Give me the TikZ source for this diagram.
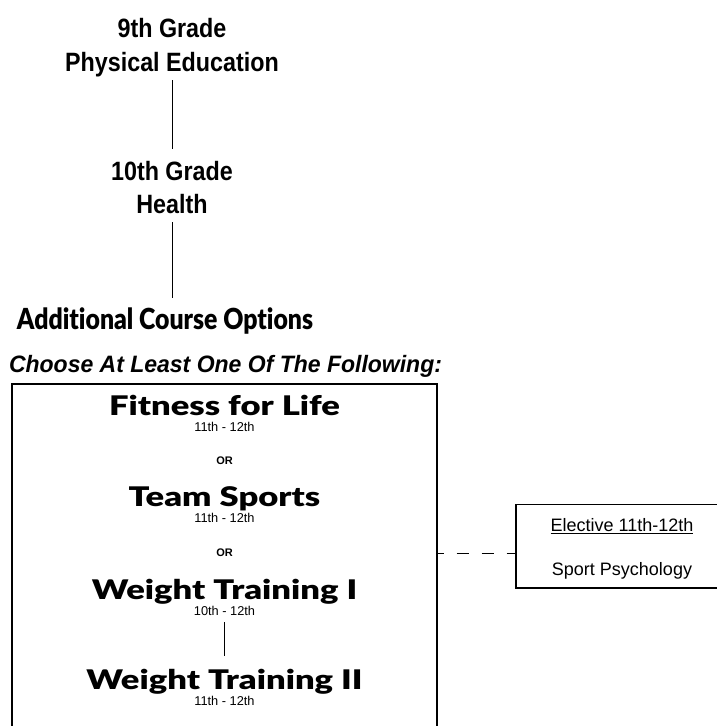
\documentclass[tikz,border=0pt]{standalone}
\usepackage{fontspec}
\setmainfont{Liberation Sans}
\newfontfamily\gradefont{Liberation Sans}[FakeStretch=0.88]
\newfontfamily\optionsfont{Lato Black}[FakeStretch=0.855,Ligatures=NoCommon]
\newfontfamily\choosefont{Liberation Sans}[FakeStretch=0.97]
\newfontfamily\coursefont{Lato Black}[FakeStretch=1.28,Ligatures=NoCommon]
\colorlet{ink}{black}

\tikzset{
  grade/.style={font=\gradefont\bfseries\fontsize{26.5}{30}\selectfont, anchor=base, inner sep=0pt, text height=31pt, text depth=9pt, text=ink},
  options/.style={font=\optionsfont\fontsize{29}{32}\selectfont, anchor=base, inner sep=0pt, text height=31pt, text=ink},
  choose/.style={font=\choosefont\bfseries\itshape\fontsize{23.7}{26}\selectfont, anchor=base, inner sep=0pt, text=ink},
  course/.style={font=\coursefont\fontsize{27}{30}\selectfont, anchor=base, inner sep=0pt, text=ink},
  years/.style={font=\fontsize{12.8}{14}\selectfont, anchor=base, inner sep=0pt, text depth=7pt, text=ink},
  orlabel/.style={font=\bfseries\fontsize{11}{13}\selectfont, anchor=base, inner sep=0pt, text=ink},
  elective/.style={font=\fontsize{18}{20}\selectfont, anchor=base, inner sep=0pt, text=ink},
  link/.style={draw=ink, line width=1pt},
  frame/.style={draw=ink, line width=1.4pt},
  dashline/.style={draw=ink, line width=1pt, dash pattern=on 12.5pt off 12.5pt, dash phase=5.5pt}
}

\begin{document}
\begin{tikzpicture}[x=1pt, y=-1pt]
  \useasboundingbox (0,0) rectangle (716,726);
  \node[grade] (grade9) at (172,37) {9th Grade};
  \node[grade] (pe) at (172,71) {Physical Education};
  \node[grade] (grade10) at (172,180) {10th Grade};
  \node[grade] (health) at (172,213) {Health};
  \node[options] (options) at (165,329) {Additional Course Options};
  \draw[link] (pe) -- (grade10);
  \draw[link] (health) -- (health |- options.north);
  \node[choose] (choose) at (225.5,372) {Choose At Least One Of The Following:};
  \draw[frame] (12,727) -- (12,384) -- (437,384) -- (437,727);
  \node[course] (fitness) at (224.5,415) {Fitness for Life};
  \node[years] (fitnessyr) at (224.5,431.7) {11th - 12th};
  \node[orlabel] (or1) at (224.5,464) {OR};
  \node[course] (team) at (224.5,506.7) {Team Sports};
  \node[years] (teamyr) at (224.5,522.7) {11th - 12th};
  \node[orlabel] (or2) at (224.5,556) {OR};
  \node[course] (wt1) at (224.5,599.3) {Weight Training I};
  \node[years] (wt1yr) at (224.5,615) {10th - 12th};
  \node[course] (wt2) at (224.5,689.3) {Weight Training II};
  \node[years] (wt2yr) at (224.5,705) {11th - 12th};
  \draw[link, line width=1.4pt] (wt1yr) -- ([yshift=12.5pt]wt2.north);
  \draw[frame, line width=1.1pt] (717,504.5) -- (516,504.5) -- (516,588) -- (717,588);
  \node[elective] (elective) at (622,531.7) {\underline{Elective 11th-12th}};
  \node[elective] (sportpsy) at (622,575) {Sport Psychology};
  \coordinate (framer) at (437,553);
  \coordinate (electivel) at (516,553);
  \draw[dashline] (framer) -- (electivel);
\end{tikzpicture}
\end{document}
